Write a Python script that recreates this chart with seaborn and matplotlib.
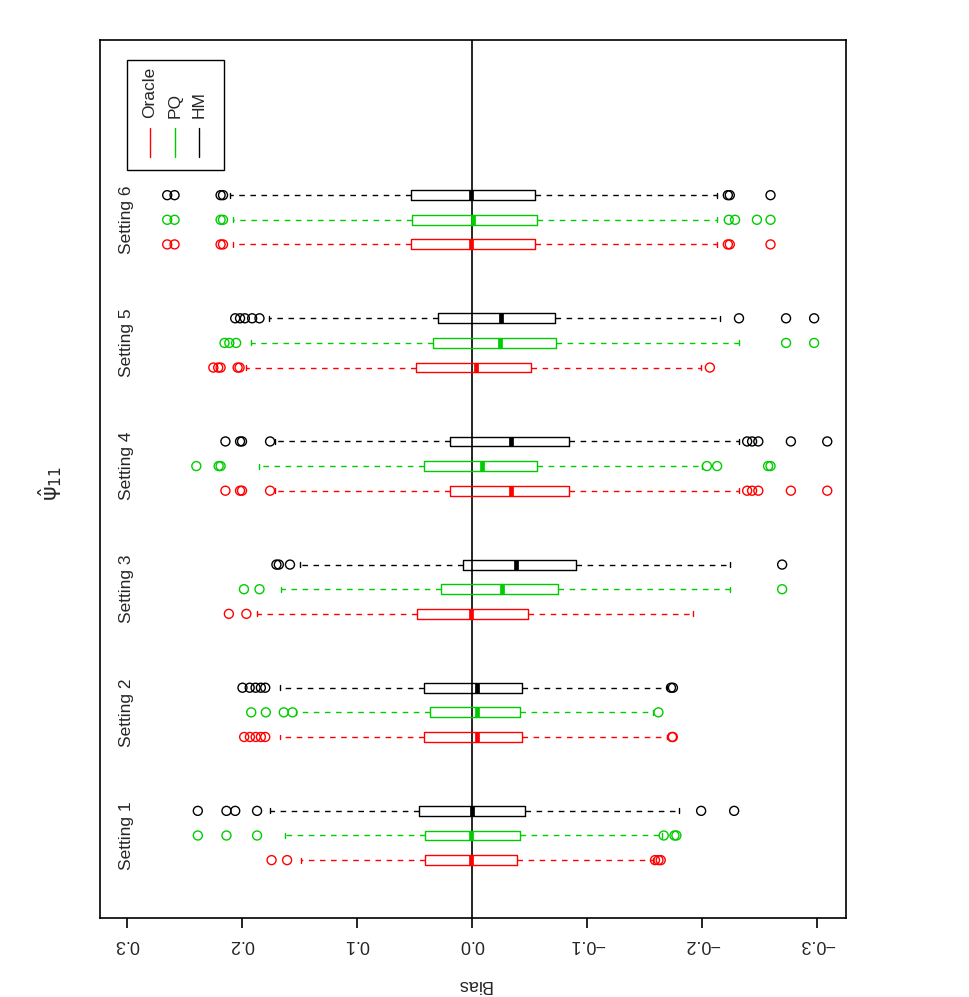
import numpy as np
import pandas as pd
import matplotlib
matplotlib.use("Agg")
import matplotlib.pyplot as plt
import seaborn as sns

# ---------------- data ----------------
settings = ["Setting 1", "Setting 2", "Setting 3", "Setting 4", "Setting 5", "Setting 6"]
methods = ["Oracle", "PQ", "HM"]
method_colors = ["#FF0000", "#00CD00", "#000000"]

# five-number summaries per setting (lower whisker, Q1, median, Q3, upper whisker)
oracle_wlo = [-0.157, -0.1696, -0.1919, -0.232, -0.1991, -0.2126]
oracle_q1 = [-0.0392, -0.0434, -0.0485, -0.0839, -0.0515, -0.0548]
oracle_med = [0.001, -0.0046, 0.0013, -0.0337, -0.0038, 0.0013]
oracle_q3 = [0.0405, 0.0413, 0.0477, 0.0194, 0.0485, 0.0527]
oracle_whi = [0.149, 0.167, 0.1868, 0.1712, 0.1961, 0.2079]
oracle_out = [
    [-0.159, -0.162, -0.164, 0.1742, 0.1607],
    [-0.1738, -0.1745, 0.198, 0.193, 0.188, 0.1835, 0.1797],
    [0.2113, 0.1961],
    [-0.2391, -0.2434, -0.2488, -0.2771, -0.3087, 0.2143, 0.2016, 0.1999, 0.1755],
    [-0.2067, 0.2248, 0.2206, 0.2185, 0.2037, 0.2020],
    [-0.2223, -0.224, -0.2594, 0.2185, 0.2164, 0.2649, 0.2585],
]

pq_wlo = [-0.1653, -0.1569, -0.2244, -0.200, -0.232, -0.2126]
pq_q1 = [-0.0418, -0.0418, -0.0751, -0.0569, -0.073, -0.0565]
pq_med = [0.0008, -0.0046, -0.0257, -0.0084, -0.024, -0.0008]
pq_q3 = [0.0409, 0.0363, 0.027, 0.0418, 0.0337, 0.0519]
pq_whi = [0.1624, 0.1531, 0.1658, 0.1847, 0.1919, 0.2079]
pq_out = [
    [-0.1666, -0.1759, -0.1776, 0.2383, 0.2134, 0.1868],
    [-0.162, 0.1919, 0.1792, 0.1636, 0.156],
    [-0.2695, 0.1982, 0.1847],
    [-0.2041, -0.213, -0.2573, -0.2594, 0.2396, 0.2202, 0.2185],
    [-0.2729, -0.2973, 0.2151, 0.2109, 0.205],
    [-0.2231, -0.2286, -0.2476, -0.2594, 0.2185, 0.2164, 0.2649, 0.2585],
]

hm_wlo = [-0.1801, -0.1696, -0.2244, -0.232, -0.2151, -0.2126]
hm_q1 = [-0.0464, -0.0434, -0.0903, -0.0839, -0.0717, -0.0548]
hm_med = [0.0, -0.0046, -0.038, -0.0337, -0.0253, 0.0013]
hm_q3 = [0.046, 0.0413, 0.008, 0.0194, 0.0295, 0.0527]
hm_whi = [0.1755, 0.167, 0.1497, 0.1712, 0.1763, 0.21]
hm_out = [
    [-0.1991, -0.2278, 0.2383, 0.2134, 0.2058, 0.1868],
    [-0.1729, -0.1746, 0.1995, 0.1932, 0.1881, 0.1835, 0.1797],
    [-0.2695, 0.17, 0.1679, 0.1582],
    [-0.2391, -0.2434, -0.2488, -0.2771, -0.3087, 0.2143, 0.2016, 0.1999, 0.1755],
    [-0.232, -0.2729, -0.2973, 0.2058, 0.2016, 0.1974, 0.1911, 0.1847],
    [-0.2223, -0.224, -0.2594, 0.2185, 0.2164, 0.2649, 0.2585],
]

tick_values = [0.3, 0.2, 0.1, 0.0, -0.1, -0.2, -0.3]
tick_labels = ["0.3", "0.2", "0.1", "0.0", "\u22120.1", "\u22120.2", "\u22120.3"]

# ---------------- build tables ----------------
summaries = {
    "Oracle": (oracle_wlo, oracle_q1, oracle_med, oracle_q3, oracle_whi, oracle_out),
    "PQ": (pq_wlo, pq_q1, pq_med, pq_q3, pq_whi, pq_out),
    "HM": (hm_wlo, hm_q1, hm_med, hm_q3, hm_whi, hm_out),
}
box_rows, out_rows = [], []
for s_idx, setting in enumerate(settings):
    for m_idx, m in enumerate(methods):
        pos = 1 + 5 * s_idx + m_idx
        wlo, q1, med, q3, whi, outs = summaries[m]
        for v in (wlo[s_idx], q1[s_idx], med[s_idx], q3[s_idx], whi[s_idx]):
            box_rows.append({"bias": v, "pos": pos, "method": m})
        for v in outs[s_idx]:
            out_rows.append({"bias": v, "pos": pos, "method": m})
box_df = pd.DataFrame(box_rows)
out_df = pd.DataFrame(out_rows)
palette = dict(zip(methods, method_colors))

# ---------------- plot ----------------
sns.set_style("white")
plt.rcParams["font.family"] = ["Liberation Sans", "DejaVu Sans"]

fig = plt.figure(figsize=(9.69, 9.97), dpi=100)
ax = fig.add_axes([100 / 969, 1 - 918 / 997, 746 / 969, 878 / 997])

sns.boxplot(
    data=box_df, x="bias", y="pos", hue="method", palette=palette,
    orient="h", native_scale=True, dodge=False, whis=(0, 100), width=0.4,
    fill=False, linewidth=1.0, legend=False, ax=ax,
    medianprops={"linewidth": 3.4, "solid_capstyle": "butt"},
    whiskerprops={"linestyle": (0, (4, 4))},
    showfliers=False,
)
for m, c in zip(methods, method_colors):
    sub = out_df[out_df["method"] == m]
    sns.scatterplot(data=sub, x="bias", y="pos", marker="o", s=42,
                    facecolor="none", edgecolor=c, linewidth=1.0,
                    legend=False, ax=ax, zorder=3)

ax.axvline(0, color="black", lw=1.2, zorder=1)

ax.set_xlim(0.3233, -0.325)
ax.set_ylim(-1.35, 34.3)
ax.set_yticks([])
ax.set_xticks(tick_values)
ax.set_xticklabels(tick_labels, rotation=180, fontsize=13)
ax.tick_params(axis="x", direction="out", length=7, width=1.2, pad=6,
               bottom=True, color="black")
ax.set_xlabel("")
ax.set_ylabel("")
for sp in ax.spines.values():
    sp.set_visible(True)
    sp.set_color("black")
    sp.set_linewidth(1.2)

# setting labels
for s_idx, setting in enumerate(settings):
    ax.text(0.3, 2 + 5 * s_idx, setting, rotation=90, ha="center",
            va="center", fontsize=12.5)

# legend (drawn in the rotated frame)
ax.add_patch(plt.Rectangle((0.0362, 0.852), 0.1298, 0.125, transform=ax.transAxes,
                           fill=False, edgecolor="black", lw=1.0))
leg_x = [0.067, 0.1005, 0.1327]
for xx, m, c in zip(leg_x, methods, method_colors):
    ax.plot([xx, xx], [0.8667, 0.8998], color=c, lw=1.0, transform=ax.transAxes)
    ax.text(xx, 0.911, m, rotation=90, rotation_mode="anchor", ha="left",
            va="center", fontsize=12.5, transform=ax.transAxes)

fig.text(50 / 969, 1 - 483 / 997, r"$\hat{\mathrm{\psi}}_{11}$", rotation=90,
         ha="center", va="center", fontsize=16)
fig.text(474 / 969, 1 - 984 / 997, "Bias", rotation=180, ha="center",
         va="center", fontsize=13)

fig.savefig("out.png", dpi=100, facecolor="white")
